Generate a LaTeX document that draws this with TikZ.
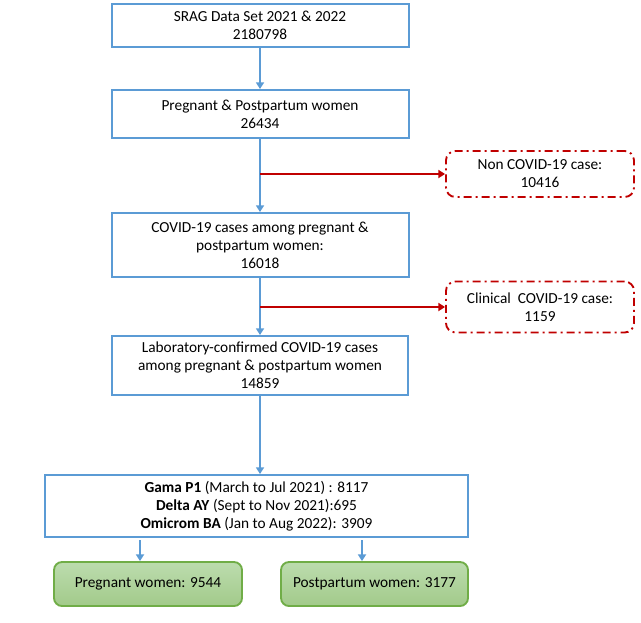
\documentclass[tikz,border=0pt]{standalone}
\usepackage{fontspec}
\setmainfont{Carlito}
\usetikzlibrary{arrows.meta,calc}
\definecolor{bblue}{HTML}{5B9BD5}
\definecolor{rred}{HTML}{C00000}
\definecolor{gtop}{HTML}{BCDCAE}
\definecolor{gbot}{HTML}{A2CA8A}
\definecolor{gborder}{HTML}{70AD47}
\tikzset{
  bluebox/.style={draw=bblue, line width=1.5pt, align=center, inner sep=2pt, font=\fontsize{11.5}{13.4}\selectfont},
  redbox/.style={draw=rred, line width=1.4pt, rounded corners=7pt, dash pattern=on 6pt off 3pt on 1.5pt off 3pt, align=center, font=\fontsize{11.5}{13.4}\selectfont},
  greenbox/.style={draw=gborder, line width=1.4pt, rounded corners=6pt, top color=gtop, bottom color=gbot, align=center, font=\fontsize{11.5}{13.4}\selectfont},
  bluearrow/.style={draw=bblue, line width=1.5pt, -{Triangle[width=6pt,length=5pt]}},
  redarrow/.style={draw=rred, line width=1.5pt, -{Triangle[width=6pt,length=5pt]}},
}
\begin{document}
\begin{tikzpicture}[x=0.75pt,y=-0.75pt]
\useasboundingbox (0,0) rectangle (641,622);
\node[bluebox, minimum width=222.75pt, minimum height=32.25pt] (b1) at (260,25.5) {SRAG Data Set 2021 \& 2022\\2180798};
\node[bluebox, minimum width=222.75pt, minimum height=36pt] (b2) at (260,114) {Pregnant \& Postpartum women\\26434};
\node[bluebox, minimum width=222.75pt, minimum height=48pt] (b3) at (260,245) {COVID-19 cases among pregnant \&\\postpartum women:\\16018};
\node[bluebox, minimum width=222pt, minimum height=44.25pt] (b4) at (260,365.5) {Laboratory-confirmed COVID-19 cases\\among pregnant \& postpartum women\\14859};
\node[bluebox, minimum width=317.25pt, minimum height=46.5pt] (b5) at (256.5,506) {\textbf{Gama P1} (March to Jul 2021) : 8117\\\textbf{Delta AY} (Sept to Nov 2021):695\\\textbf{Omicrom BA} (Jan to Aug 2022): 3909};
\node[redbox, minimum width=141pt, minimum height=34.5pt] (r1) at (540,174) {Non COVID-19 case:\\10416};
\node[redbox, minimum width=141pt, minimum height=38.25pt] (r2) at (540,307) {Clinical\ \ COVID-19 case:\\1159};
\node[greenbox, minimum width=141pt, minimum height=33pt] (g1) at (148,584) {Pregnant women: 9544};
\node[greenbox, minimum width=140.25pt, minimum height=33pt] (g2) at (374.5,584) {Postpartum women: 3177};
\draw[bluearrow] (b1.south) -- (b2.north);
\draw[bluearrow] (b2.south) -- (b3.north);
\draw[bluearrow] (b3.south) -- (b4.north);
\draw[bluearrow] (b4.south) -- (b4.south |- b5.north);
\draw[redarrow] (b2.south |- r1.west) -- (r1.west);
\draw[redarrow] (b3.south |- r2.west) -- (r2.west);
\coordinate (a1) at (140,540);
\coordinate (a2) at (362,540);
\draw[bluearrow] (a1) -- (a1 |- g1.north);
\draw[bluearrow] (a2) -- (a2 |- g2.north);
\end{tikzpicture}
\end{document}
